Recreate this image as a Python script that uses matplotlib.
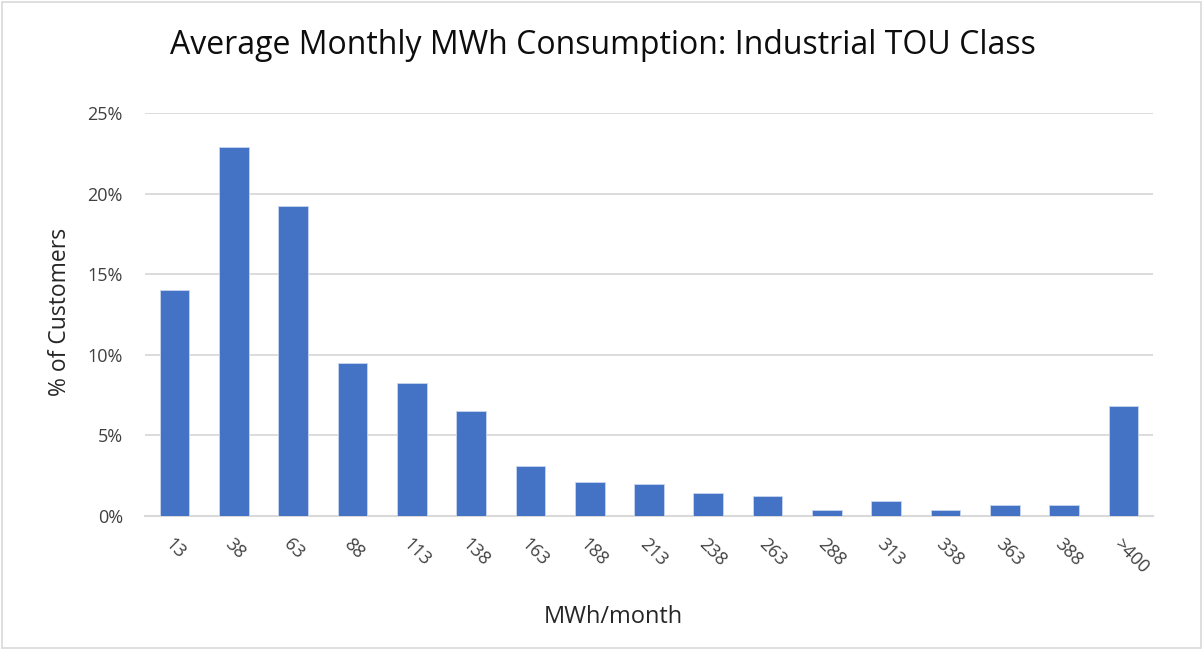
import matplotlib.pyplot as plt
from matplotlib.ticker import PercentFormatter
from matplotlib.patches import Rectangle

plt.rcParams["font.family"] = ["Open Sans", "DejaVu Sans"]

bins = ["13", "38", "63", "88", "113", "138", "163", "188", "213", "238",
        "263", "288", "313", "338", "363", "388", ">400"]
pct_customers = [14.0, 22.9, 19.2, 9.5, 8.25, 6.5, 3.08, 2.13, 1.97, 1.41,
                 1.26, 0.40, 0.95, 0.40, 0.71, 0.71, 6.82]

fig = plt.figure(figsize=(12.03, 6.5), dpi=100)
ax = fig.add_axes([145 / 1203, 1 - 516 / 650, 1008 / 1203, 403 / 650])

x = range(len(bins))
ax.bar(x, pct_customers, width=0.5, color="#4472C4", edgecolor="#C9D6EE",
       linewidth=0.6, zorder=3)

ax.set_xlim(-0.5, len(bins) - 0.5)
ax.set_ylim(0, 25)
ax.set_yticks([0, 5, 10, 15, 20, 25])
ax.yaxis.set_major_formatter(PercentFormatter(decimals=0))
ax.grid(axis="y", color="#D9D9D9", linewidth=1.3, zorder=0)
for side in ["top", "right", "left"]:
    ax.spines[side].set_visible(False)
ax.spines["bottom"].set_color("#D9D9D9")
ax.spines["bottom"].set_linewidth(1.5)
ax.tick_params(axis="both", length=0, labelsize=13, labelcolor="#404040")
ax.tick_params(axis="y", pad=16)

ax.set_xticks(list(x))
ax.set_xticklabels(bins, rotation=-45, ha="left", rotation_mode="anchor")
ax.tick_params(axis="x", pad=14)

ax.set_xlabel("MWh/month", fontsize=17, color="#262626", va="center")
ax.xaxis.set_label_coords(0.465, -0.25)
ax.set_ylabel("% of Customers", fontsize=16.5, color="#262626", va="center")
ax.yaxis.set_label_coords(-0.084, 0.506)
fig.suptitle("Average Monthly MWh Consumption: Industrial TOU Class",
             fontsize=23, color="#0d0d0d", x=603 / 1203, y=1 - 46 / 650, va="center")

fig.patches.append(Rectangle((0.002, 0.003), 0.996, 0.994, transform=fig.transFigure,
                             fill=False, edgecolor="#D9D9D9", linewidth=1.2))

fig.savefig("out.png", dpi=100)
